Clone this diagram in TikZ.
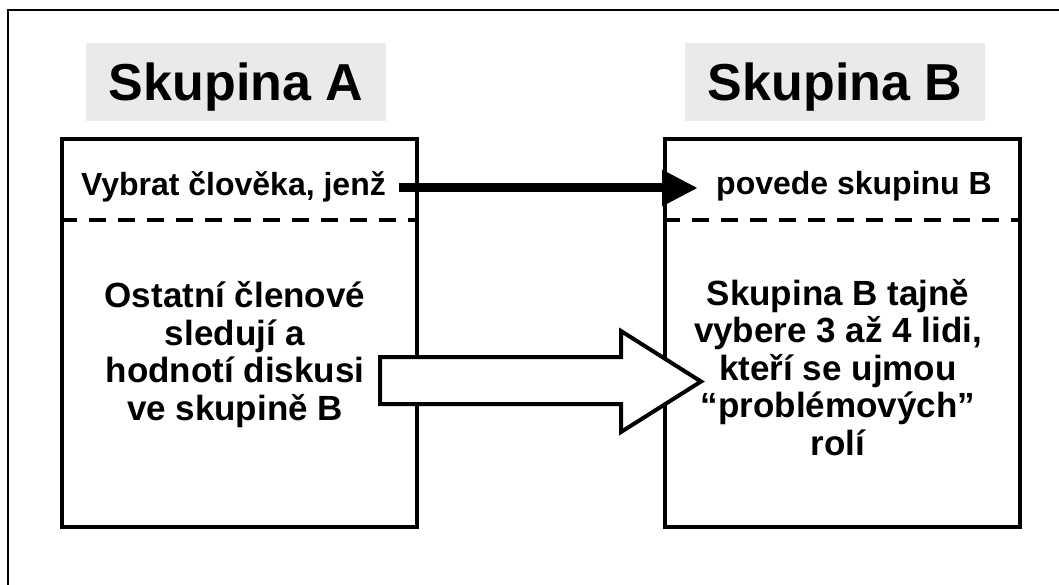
\documentclass[tikz,border=0pt]{standalone}
\usepackage{fontspec}
\setmainfont{Liberation Sans}
\usetikzlibrary{arrows.meta}
\definecolor{hdrgray}{RGB}{234,234,234}
\begin{document}
\begin{tikzpicture}[x=1pt,y=-1pt,
  hdr/.style={fill=hdrgray, minimum width=300pt, minimum height=78pt, inner sep=0pt,
    font=\fontsize{52}{60}\selectfont\bfseries, text height=37pt, text depth=0pt},
  grpbox/.style={draw, line width=4.5pt, minimum width=355pt, minimum height=388pt, inner sep=0pt},
  sepline/.style={line width=4pt, dash pattern=on 17pt off 12pt},
  toptxt/.style={font=\fontsize{32}{38}\selectfont\bfseries, inner sep=0pt, text height=23pt, text depth=0pt},
  bodytxt/.style={font=\fontsize{35}{37.5}\selectfont\bfseries, align=center, inner sep=0pt},
  frame/.style={line width=2pt},
  bigarrow/.style={line width=4pt, fill=white, line join=miter},
  leadarrow/.style={line width=9pt, -{Triangle[length=36pt,width=34pt]}}
]
\useasboundingbox (0,0) rectangle (1059,585);
\draw[frame] (8,600) -- (8,10) -- (1070,10);

\node[hdr] (hA) at (236,82) {Skupina A};
\node[hdr] (hB) at (835,82) {Skupina B};

\node[grpbox] (boxA) at (239.5,333) {};
\node[grpbox] (boxB) at (842.5,333) {};

\coordinate (dA) at (0,220);
\draw[sepline] (boxA.west |- dA) -- (boxA.east |- dA);
\draw[sepline] (boxB.west |- dA) -- (boxB.east |- dA);

\node[toptxt] (vyb) at (233.5,184) {Vybrat člověka, jenž};
\node[toptxt] (pov) at (854,183.5) {povede skupinu B};

\node[bodytxt, anchor=base] (ostA) at (235,420) {Ostatní členové\\sledují a\\hodnotí diskusi\\ve skupině B};
\node[bodytxt, anchor=base] (ostB) at (838,455) {Skupina B tajně\\vybere 3 až 4 lidi,\\kteří se ujmou\\“problémových”\\rolí};

\draw[bigarrow] (380,357) -- (621,357) -- (621,331) -- (701,381.5) -- (621,432) -- (621,404) -- (380,404) -- cycle;

\coordinate (arS) at (399,188);
\coordinate (arE) at (698,188);
\draw[leadarrow] (arS) -- (arE);
\end{tikzpicture}
\end{document}
